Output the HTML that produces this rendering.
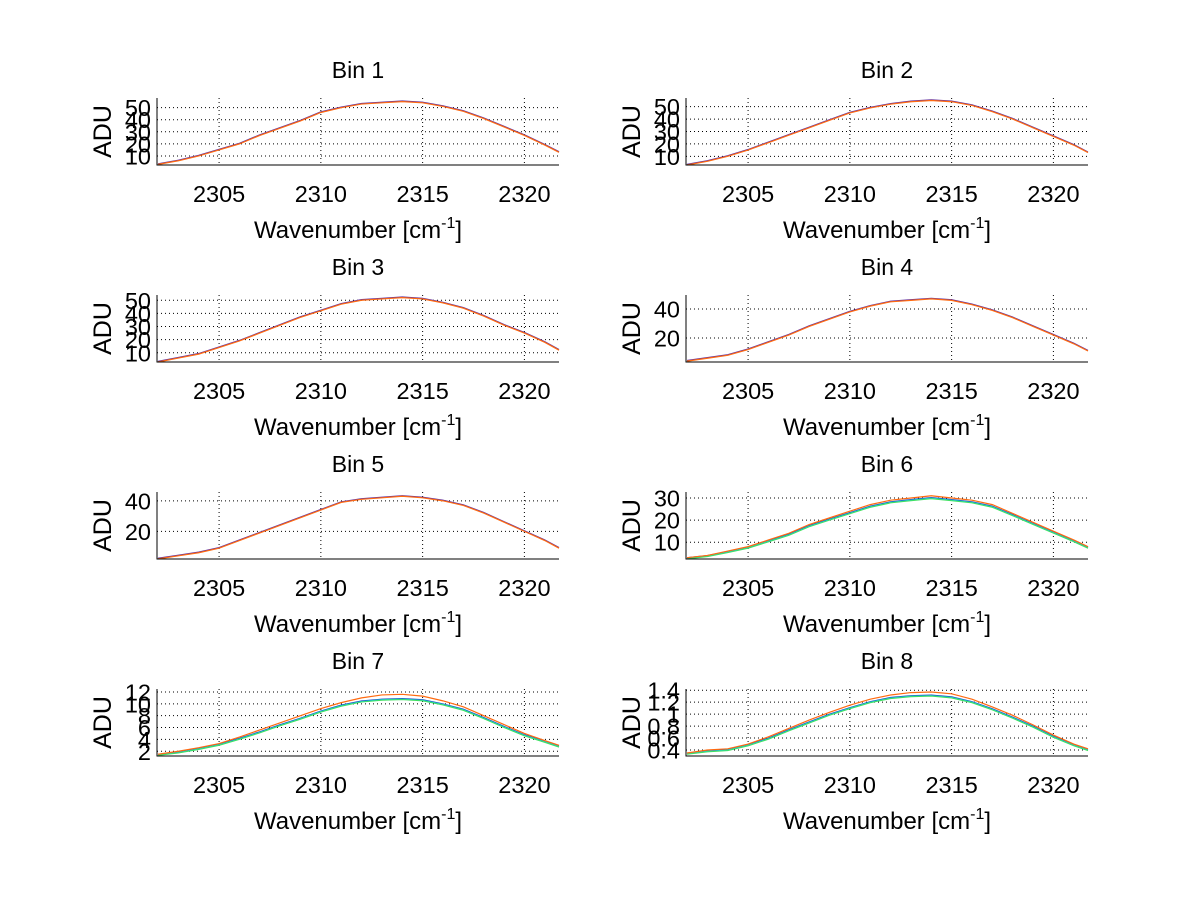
<!DOCTYPE html>
<html><head><meta charset="utf-8"><style>
body{margin:0;background:#fff;}
svg text{font-family:"Liberation Sans",Arial,sans-serif;fill:#000;}
</style></head><body>
<svg id="fig" width="1200" height="901" viewBox="0 0 1200 901" xmlns="http://www.w3.org/2000/svg"></svg>
<script>
const xs=[2302,2303,2304,2305,2306,2307,2308,2309,2310,2311,2312,2313,2314,2315,2316,2317,2318,2319,2320,2321,2322];
const xTicks=[2305,2310,2315,2320];
const bin1=[3,6,10,15,20,27,33,39,46,50,53,54,55,54,51,47,41,34,27,19,13];
const bin2=[3,6,10,15,21,27,33,39,45,49,52,54,55,54,51,46,40,33,26,19,13];
const bin3=[3,6,9,14,19,25,31,37,42,47,50,51,52,51,48,44,38,31,25,18,12];
const bin4=[4,6,8,12,17,22,28,33,38,42,45,46,47,46,43,39,34,28,22,16,11];
const bin5=[2,4,6,9,14,19,24,29,34,39,41,42,43,42,40,37,32,26,20,14,9];
const bin6=[3,4,6,8,11,14,18,21,24,27,29,30,31,30,29,27,23,19,15,11,8];
const bin6b=[3,4,5.8,7.8,10.7,13.6,17.5,20.5,23.4,26.3,28.3,29.3,30.2,29.3,28.3,26.3,22.5,18.5,14.6,10.7,7.8];
const bin7=[1.5,2.0,2.6,3.3,4.4,5.6,6.8,8.0,9.2,10.2,11.0,11.5,11.6,11.3,10.5,9.5,8.0,6.5,5.0,3.8,3.0];
const bin7b=[1.5,1.9,2.5,3.2,4.2,5.3,6.5,7.6,8.8,9.8,10.5,10.8,10.9,10.7,10.0,9.1,7.7,6.2,4.8,3.7,2.9];
const bin8=[0.35,0.40,0.42,0.50,0.62,0.76,0.90,1.03,1.15,1.25,1.32,1.36,1.37,1.34,1.25,1.12,0.98,0.82,0.65,0.50,0.42];
const bin8b=[0.35,0.39,0.41,0.49,0.60,0.74,0.87,1.00,1.11,1.21,1.28,1.31,1.32,1.29,1.21,1.09,0.95,0.80,0.63,0.49,0.41];
const yTicks1=[10,20,30,40,50],yTicks4=[20,40],yTicks6=[10,20,30],yTicks7=[2,4,6,8,10,12],yTicks8=[0.4,0.6,0.8,1,1.2,1.4];
const titles=["Bin 1","Bin 2","Bin 3","Bin 4","Bin 5","Bin 6","Bin 7","Bin 8"];
const panels=[
 {main:bin1,sec:[],ylim:[2.5,58],yt:yTicks1},
 {main:bin2,sec:[],ylim:[3,57],yt:yTicks1},
 {main:bin3,sec:[],ylim:[3,54],yt:yTicks1},
 {main:bin4,sec:[],ylim:[3.4,49.7],yt:yTicks4},
 {main:bin5,sec:[],ylim:[1.9,45.8],yt:yTicks4},
 {main:bin6,sec:[bin6b],ylim:[2.4,32.7],yt:yTicks6},
 {main:bin7,sec:[bin7b],ylim:[1.2,12.5],yt:yTicks7},
 {main:bin8,sec:[bin8b],ylim:[0.3,1.42],yt:yTicks8}
];
const NS="http://www.w3.org/2000/svg";
const svg=document.getElementById('fig');
function mk(tag,attrs,parent){const e=document.createElementNS(NS,tag);for(const k in attrs)e.setAttribute(k,attrs[k]);(parent||svg).appendChild(e);return e;}
const xlim=[2301.95,2321.7];
panels.forEach((p,i)=>{
 const col=i%2,row=Math.floor(i/2);
 const L=157+col*529,R=559+col*529,T=98+row*197,B=165+row*197;
 const X=v=>L+(v-xlim[0])/(xlim[1]-xlim[0])*(R-L);
 const Y=v=>B-(v-p.ylim[0])/(p.ylim[1]-p.ylim[0])*(B-T);
 const g=mk('g',{});
 
 
 xTicks.forEach(t=>{
  const l=mk('line',{x1:X(t),x2:X(t),y1:T,y2:B,stroke:'#000','stroke-width':1,'stroke-dasharray':'1,3'},g);
  
  
  const tx=mk('text',{x:X(t),y:B+37,'font-size':23.5,'text-anchor':'middle'},g);tx.textContent=t;
  
  
 });
 p.yt.forEach(t=>{
  const l=mk('line',{x1:L,x2:R,y1:Y(t),y2:Y(t),stroke:'#000','stroke-width':1,'stroke-dasharray':'1,3'},g);
  
  
  const tx=mk('text',{x:L-6,y:Y(t)+8.5,'font-size':23.5,'text-anchor':'end'},g);tx.textContent=t;
  
  
 });
 const cols=['#2040c0','#20d0d0','#40e060'];
 p.sec.forEach((s,k)=>{
  [0,1,2].forEach(c=>{
   const pl=mk('polyline',{points:xs.map((x,j)=>X(Math.min(x,xlim[1]))+','+(Y(s[j])+c*0.6)).join(' '),fill:'none',stroke:cols[c],'stroke-width':1},g);
   
   
  });
 });
 if(!p.sec.length){
  const pb=mk('polyline',{points:xs.map((x,j)=>X(Math.min(x,xlim[1]))+','+(Y(p.main[j])-0.7)).join(' '),fill:'none',stroke:'#6030a0','stroke-width':1},g);
  
  
 }
 const pm=mk('polyline',{points:xs.map((x,j)=>X(Math.min(x,xlim[1]))+','+Y(p.main[j])).join(' '),fill:'none',stroke:'#ff6a10','stroke-width':1.2},g);
 
 
 const ax=mk('path',{d:`M${L},${T} L${L},${B} L${R},${B}`,fill:'none',stroke:'#000','stroke-width':1},g);
 
 
 const ti=mk('text',{x:(L+R)/2,y:T-20,'font-size':23,'text-anchor':'middle'},g);ti.textContent=titles[i];
 
 
 const xl=mk('text',{x:(L+R)/2,y:B+73,'font-size':24,'text-anchor':'middle'},g);
 xl.innerHTML='Wavenumber [cm<tspan dy="-10" font-size="16">-1</tspan><tspan dy="10">]</tspan>';
 
 
 const yl=mk('text',{x:0,y:0,'font-size':25,'text-anchor':'middle',transform:`translate(${L-46},${(T+B)/2}) rotate(-90)`},g);yl.textContent='ADU';
 
 
});
</script>
</body></html>
